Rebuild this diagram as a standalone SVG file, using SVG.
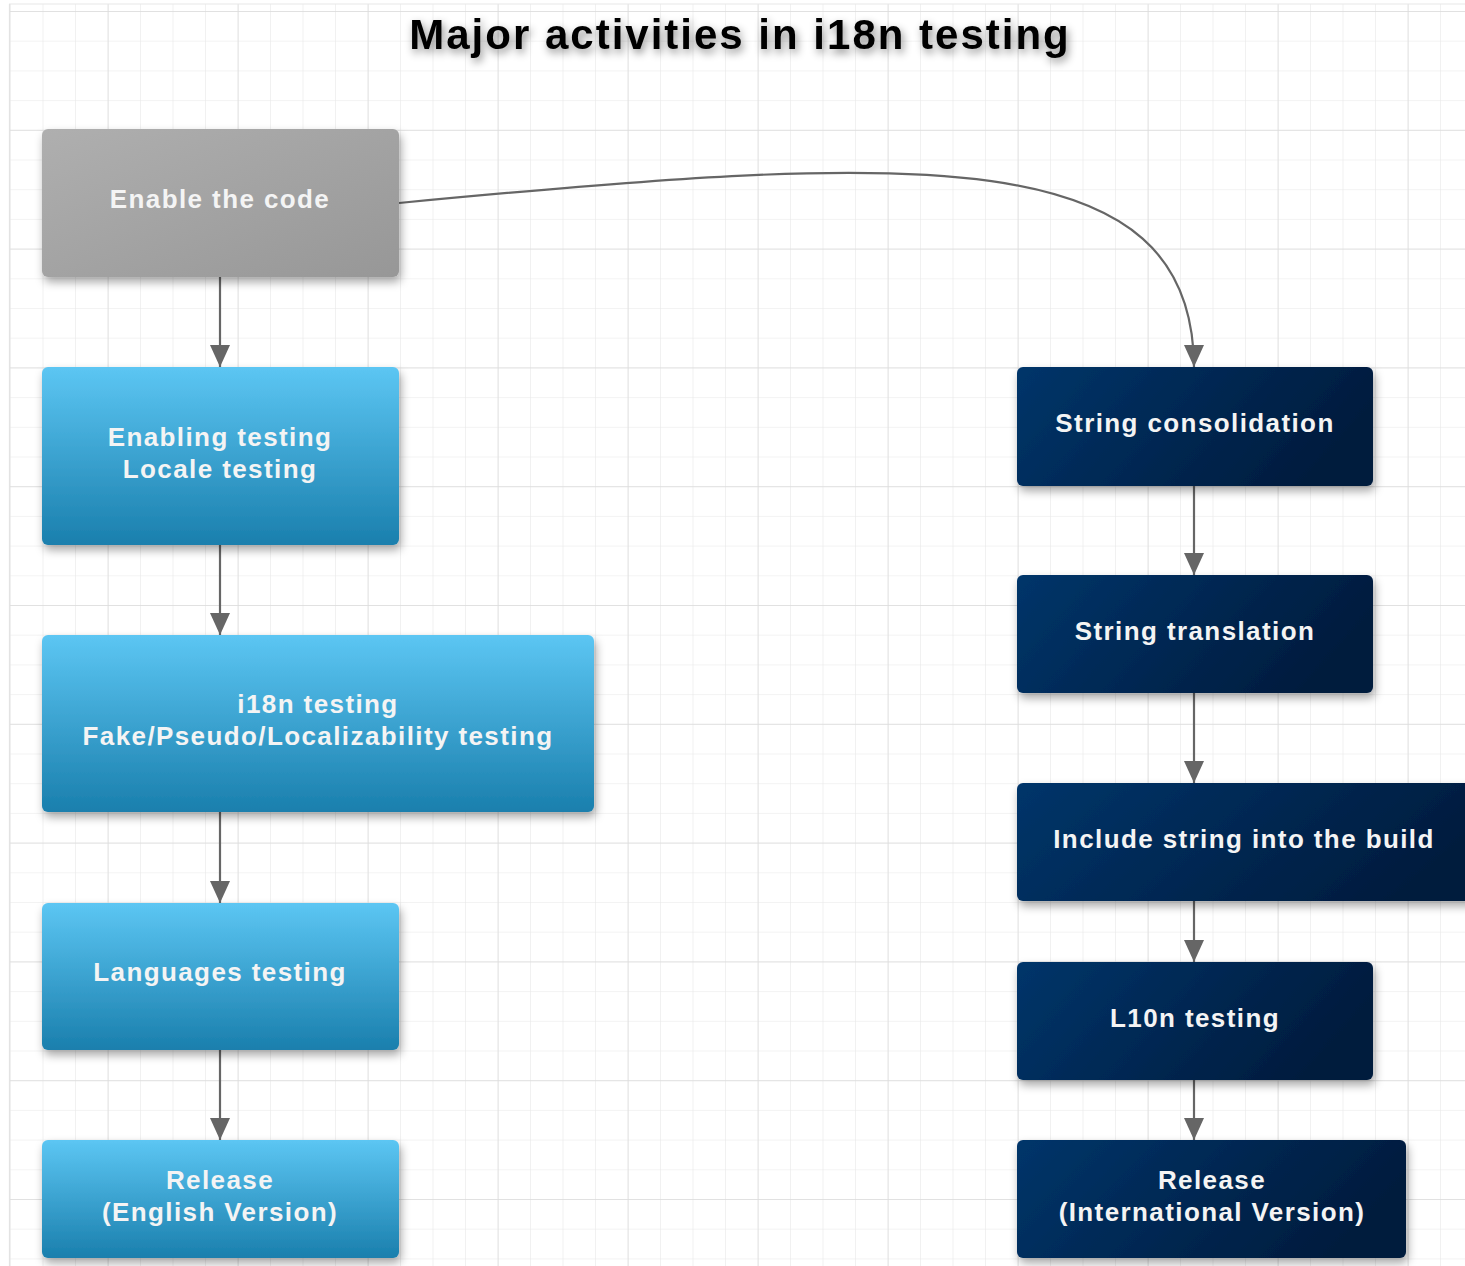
<svg xmlns="http://www.w3.org/2000/svg" width="1465" height="1266" viewBox="0 0 1465 1266">
<defs>
  <pattern id="gridMinor" x="10" y="11" width="32.5" height="29.7" patternUnits="userSpaceOnUse">
    <path d="M0,0 H32.5 M0,0 V29.7" fill="none" stroke="#e8e8e8" stroke-width="1.2"/>
  </pattern>
  <pattern id="gridMajor" x="-22.3" y="11" width="130" height="118.8" patternUnits="userSpaceOnUse">
    <path d="M0,0 H130 M0,0 V118.8" fill="none" stroke="#dcdcdc" stroke-width="1.3"/>
  </pattern>
  <linearGradient id="gGray" x1="0" y1="0" x2="1" y2="1">
    <stop offset="0" stop-color="#afafaf"/>
    <stop offset="1" stop-color="#979797"/>
  </linearGradient>
  <linearGradient id="gBlue" x1="0" y1="0" x2="0" y2="1">
    <stop offset="0" stop-color="#5cc6f3"/>
    <stop offset="1" stop-color="#1a7fad"/>
  </linearGradient>
  <linearGradient id="gNavy" x1="0" y1="0" x2="1" y2="0.3">
    <stop offset="0" stop-color="#03356a"/>
    <stop offset="1" stop-color="#001c3e"/>
  </linearGradient>
  <filter id="shadow" x="-10%" y="-20%" width="125%" height="150%">
    <feDropShadow dx="2" dy="5" stdDeviation="5" flood-color="#000" flood-opacity="0.35"/>
  </filter>
  <filter id="tshadow" x="-10%" y="-50%" width="120%" height="200%">
    <feDropShadow dx="2" dy="4" stdDeviation="4" flood-color="#000" flood-opacity="0.45"/>
  </filter>
  <marker id="arrow" markerUnits="userSpaceOnUse" markerWidth="20" markerHeight="22" refX="10" refY="22" viewBox="0 0 20 22" orient="0">
    <path d="M0,0 L20,0 L10,22 Z" fill="#666"/>
  </marker>
</defs>
<style>
  .lbl { font-family: "Liberation Sans", Arial, sans-serif; font-weight: bold; font-size: 26px; fill: #f4f4f4; text-anchor: middle; letter-spacing: 1.4px; }
  .edge { fill: none; stroke: #666; stroke-width: 2.2; }
  .title { font-family: "Liberation Sans", Arial, sans-serif; font-weight: bold; font-size: 42px; fill: #000; text-anchor: middle; letter-spacing: 2px; }
</style>
<rect width="1465" height="1266" fill="#fff"/>
<rect x="9" y="4" width="1456" height="1262" fill="url(#gridMinor)"/>
<rect x="9" y="4" width="1456" height="1262" fill="url(#gridMajor)"/>
<line x1="9" y1="4" x2="1465" y2="4" stroke="#e8e8e8" stroke-width="1.2"/>
<line x1="9.5" y1="4" x2="9.5" y2="1266" stroke="#e3e3e3" stroke-width="1.2"/>

<text class="title" x="740" y="49" filter="url(#tshadow)">Major activities in i18n testing</text>

<g id="connectors">
  <path class="edge" d="M220,277 V367" marker-end="url(#arrow)"/>
  <path class="edge" d="M220,545 V635" marker-end="url(#arrow)"/>
  <path class="edge" d="M220,812 V903" marker-end="url(#arrow)"/>
  <path class="edge" d="M220,1050 V1140" marker-end="url(#arrow)"/>
  <path class="edge" d="M1194,486 V575" marker-end="url(#arrow)"/>
  <path class="edge" d="M1194,693 V783" marker-end="url(#arrow)"/>
  <path class="edge" d="M1194,901 V962" marker-end="url(#arrow)"/>
  <path class="edge" d="M1194,1080 V1140" marker-end="url(#arrow)"/>
  <path class="edge" d="M399,203 C920,153 1193,140 1194,367" marker-end="url(#arrow)"/>
</g>

<g id="n-enable">
  <rect x="42" y="129" width="357" height="148" rx="6" fill="url(#gGray)" filter="url(#shadow)"/>
  <text class="lbl" x="220" y="208">Enable the code</text>
</g>
<g id="n-enabling-testing">
  <rect x="42" y="367" width="357" height="178" rx="6" fill="url(#gBlue)" filter="url(#shadow)"/>
  <text class="lbl" x="220" y="446">Enabling testing</text>
  <text class="lbl" x="220" y="478">Locale testing</text>
</g>
<g id="n-i18n-testing">
  <rect x="42" y="635" width="552" height="177" rx="6" fill="url(#gBlue)" filter="url(#shadow)"/>
  <text class="lbl" x="318" y="713">i18n testing</text>
  <text class="lbl" x="318" y="745">Fake/Pseudo/Localizability testing</text>
</g>
<g id="n-languages">
  <rect x="42" y="903" width="357" height="147" rx="6" fill="url(#gBlue)" filter="url(#shadow)"/>
  <text class="lbl" x="220" y="981">Languages testing</text>
</g>
<g id="n-release-en">
  <rect x="42" y="1140" width="357" height="118" rx="6" fill="url(#gBlue)" filter="url(#shadow)"/>
  <text class="lbl" x="220" y="1189">Release</text>
  <text class="lbl" x="220" y="1221">(English Version)</text>
</g>
<g id="n-string-consolidation">
  <rect x="1017" y="367" width="356" height="119" rx="6" fill="url(#gNavy)" filter="url(#shadow)"/>
  <text class="lbl" x="1195" y="432">String consolidation</text>
</g>
<g id="n-string-translation">
  <rect x="1017" y="575" width="356" height="118" rx="6" fill="url(#gNavy)" filter="url(#shadow)"/>
  <text class="lbl" x="1195" y="640">String translation</text>
</g>
<g id="n-include-string">
  <rect x="1017" y="783" width="470" height="118" rx="6" fill="url(#gNavy)" filter="url(#shadow)"/>
  <text class="lbl" x="1244" y="848">Include string into the build</text>
</g>
<g id="n-l10n-testing">
  <rect x="1017" y="962" width="356" height="118" rx="6" fill="url(#gNavy)" filter="url(#shadow)"/>
  <text class="lbl" x="1195" y="1027">L10n testing</text>
</g>
<g id="n-release-intl">
  <rect x="1017" y="1140" width="389" height="118" rx="6" fill="url(#gNavy)" filter="url(#shadow)"/>
  <text class="lbl" x="1212" y="1189">Release</text>
  <text class="lbl" x="1212" y="1221">(International Version)</text>
</g>
</svg>
